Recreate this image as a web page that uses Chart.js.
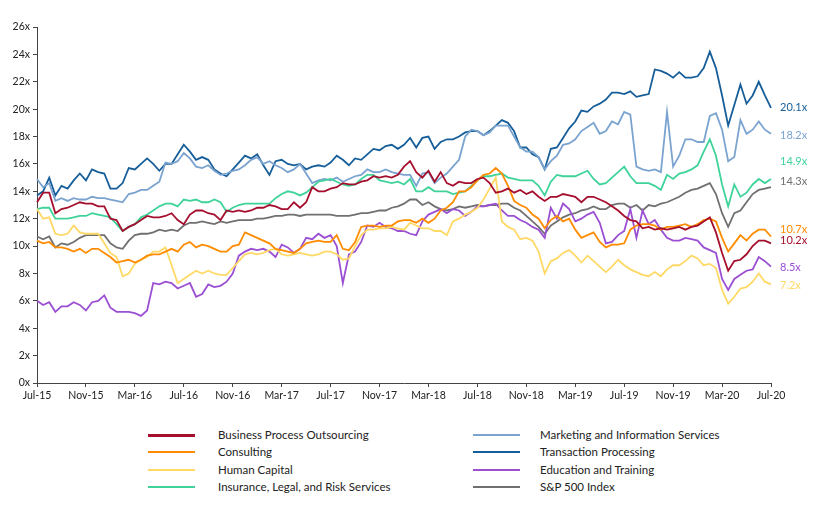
<!DOCTYPE html>
<html>
<head>
<meta charset="utf-8">
<script src="https://cdn.jsdelivr.net/npm/chart.js@4.4.0/dist/chart.umd.min.js"></script>
<style>
  body { margin: 0; background: #fff; font-family: Lato, "Noto Sans", sans-serif; }
  #wrap { position: relative; width: 814px; height: 507px; }
  #chart { position: absolute; left: 0; top: 0; }
  .lg { position: absolute; font-size: 11.5px; color: #222; line-height: 14px; white-space: nowrap; }
  .lg i { position: absolute; width: 47px; height: 2px; left: -70px; top: 6px; }
</style>
</head>
<body>
<div id="wrap">
  <canvas id="chart" width="814" height="405"></canvas>
  <div id="legend"></div>
</div>
<script>
// half-month steps, Jul-15 .. Jul-20
var tickLabels = ['Jul-15','Nov-15','Mar-16','Jul-16','Nov-16','Mar-17','Jul-17','Nov-17','Mar-18','Jul-18','Nov-18','Mar-19','Jul-19','Nov-19','Mar-20','Jul-20'];

var seriesNames = ['Business Process Outsourcing','Consulting','Human Capital','Insurance, Legal, and Risk Services',
                   'Marketing and Information Services','Transaction Processing','Education and Training','S&P 500 Index'];

var bpo = [13.2,13.9,13.9,12.4,12.7,12.8,13.0,13.2,13.1,13.1,12.9,12.9,12.0,11.9,11.1,11.4,11.6,11.9,12.2,12.1,12.1,
  12.2,12.4,11.9,11.6,12.3,12.6,12.6,12.4,12.3,11.9,12.6,12.5,12.6,12.5,12.6,12.8,12.8,13.0,12.9,
  12.7,12.7,13.2,12.8,13.2,14.3,14.0,14.0,14.2,14.3,14.6,14.5,14.5,14.7,14.8,15.1,15.0,15.1,15.0,15.2,
  15.8,16.2,15.4,15.0,15.5,14.7,15.4,14.6,14.4,14.7,14.6,14.6,14.9,15.0,14.6,13.9,14.0,14.2,13.9,14.1,
  13.8,14.0,13.6,13.3,13.6,13.6,13.8,13.7,13.6,13.2,13.6,13.6,13.4,13.2,12.9,12.6,12.2,11.9,11.8,
  11.3,11.4,11.2,11.3,11.2,11.3,11.4,11.2,11.4,11.5,11.8,12.1,11.0,9.5,8.2,8.9,9.0,9.4,10.0,10.4,10.4,10.2];

var consulting = [10.4,10.2,10.3,9.9,9.9,9.8,9.6,9.8,9.5,9.8,9.8,9.5,9.2,8.8,8.9,9.0,8.8,9.0,9.3,9.4,9.4,
  9.6,9.8,9.6,10.1,10.3,9.9,10.1,10.0,9.8,9.6,9.6,10.0,10.1,11.0,10.8,10.6,10.4,10.2,9.8,
  9.7,9.6,9.5,9.8,10.2,10.3,10.4,10.3,10.3,10.8,9.8,9.7,10.3,11.4,11.5,11.5,11.4,11.5,11.5,11.8,
  11.9,11.9,11.7,12.0,11.7,12.0,12.6,12.8,13.2,14.0,14.0,14.3,14.8,15.2,15.3,15.7,15.3,14.4,13.3,13.0,
  12.8,12.3,12.0,11.3,11.9,12.2,11.8,12.0,11.2,10.6,10.8,11.0,10.3,9.9,10.1,10.1,10.2,11.2,11.5,
  11.6,11.6,11.5,11.2,11.4,11.4,11.5,11.6,11.4,11.6,11.9,12.0,11.8,10.6,9.6,10.2,10.8,10.4,10.9,11.2,11.2,10.7];

var humanCapital = [12.7,12.0,12.1,10.9,10.8,10.9,11.5,11.0,10.9,10.9,10.9,10.2,9.5,9.2,7.8,8.0,8.7,9.0,9.2,9.6,9.6,
  9.9,8.6,7.3,7.6,7.9,8.2,8.0,8.2,8.0,7.9,7.9,8.4,8.9,9.4,9.5,9.4,9.5,9.7,9.8,
  9.4,9.3,9.4,9.5,9.4,9.3,9.4,9.6,9.6,9.4,9.0,9.1,10.0,10.8,11.2,11.2,11.3,11.3,11.4,11.3,
  11.2,11.7,11.5,11.3,11.3,11.1,11.1,10.8,11.8,12.0,12.3,12.5,12.8,13.4,14.2,15.0,11.8,11.4,11.2,10.5,
  10.6,10.4,9.6,8.0,8.9,9.1,9.5,9.7,9.3,8.8,9.3,8.9,8.5,8.1,8.5,9.0,8.6,8.3,8.1,
  7.9,7.8,8.1,7.8,8.3,8.6,8.6,8.9,9.3,9.1,8.6,8.7,8.4,6.8,5.8,6.3,6.9,7.0,7.4,8.0,7.4,7.2];

var insurance = [12.7,12.8,12.8,12.0,12.0,12.0,12.1,12.2,12.2,12.4,12.3,12.2,12.1,11.6,11.1,11.4,11.6,12.1,12.3,12.6,12.9,
  13.1,13.1,12.9,13.4,13.3,13.4,13.2,13.2,13.4,13.2,12.5,12.8,13.0,13.1,13.1,13.1,13.1,13.1,13.5,
  13.8,14.0,13.9,13.7,13.9,14.3,14.7,14.8,14.9,14.7,14.5,14.4,14.5,14.9,15.2,15.2,14.8,14.7,14.6,14.7,
  14.5,14.9,14.0,14.0,14.3,14.0,14.0,14.0,13.8,13.9,14.0,14.4,14.8,15.1,15.1,15.2,15.3,15.0,14.9,14.8,
  14.8,14.8,14.4,13.7,14.7,15.2,15.1,15.1,15.1,15.3,15.5,14.9,14.5,14.6,15.0,15.4,15.8,15.1,14.6,
  14.6,14.6,14.4,14.1,15.2,14.9,15.3,15.4,15.6,15.9,16.9,17.8,16.6,14.5,12.9,14.5,13.6,13.9,14.5,14.9,14.6,14.9];

var marketing = [14.9,14.3,14.6,13.3,13.5,13.3,13.5,13.4,13.4,13.6,13.5,13.5,13.4,13.3,13.2,13.8,13.9,14.1,14.1,14.4,14.7,
  16.1,16.0,16.2,16.8,16.4,15.8,15.7,15.9,15.5,15.2,15.3,15.5,15.6,15.9,16.3,16.5,16.0,16.2,15.9,
  15.7,15.4,15.6,16.0,15.3,14.6,14.8,14.9,14.8,15.0,14.7,14.9,15.1,15.2,15.6,15.4,15.4,15.6,15.4,15.3,
  15.2,15.2,14.4,15.3,15.4,14.6,15.0,15.3,15.8,16.3,18.0,18.5,18.4,18.1,18.3,18.8,18.8,18.8,18.0,17.2,
  16.9,16.9,16.5,15.6,16.2,16.6,17.4,17.5,17.8,18.4,18.7,19.0,18.2,18.4,19.1,18.9,19.8,19.6,15.8,
  15.6,15.5,15.6,15.4,19.8,15.8,16.6,17.8,17.8,17.6,17.6,19.5,19.7,18.5,16.2,16.5,19.2,18.2,18.5,19.1,18.5,18.2];

var transaction = [13.7,14.0,15.0,13.7,14.4,14.2,14.8,15.3,14.8,15.6,15.4,15.3,14.2,14.2,14.6,15.7,15.6,16.0,16.4,16.0,15.5,
  16.0,16.0,16.7,17.4,16.9,16.3,16.5,16.3,15.6,15.3,15.1,15.6,16.1,16.6,16.4,16.7,15.9,15.2,16.2,
  16.3,16.0,15.9,16.0,15.6,15.8,15.9,15.8,16.1,16.6,16.3,15.9,16.4,16.3,16.7,17.1,17.0,17.3,17.4,17.1,
  17.4,17.9,17.2,17.9,18.0,17.1,17.6,17.8,17.8,18.0,18.3,18.4,18.4,18.1,18.4,18.8,19.2,19.0,18.4,17.2,
  17.2,16.7,16.5,15.6,17.1,17.2,17.9,18.6,19.1,19.9,19.8,20.2,20.4,20.7,21.2,21.2,21.1,21.3,20.9,
  21.0,21.1,22.9,22.8,22.6,22.3,22.7,22.3,22.3,22.4,23.0,24.2,23.0,21.0,18.8,20.3,21.8,20.4,21.0,22.0,21.0,20.1];

var education = [6.0,5.7,5.9,5.2,5.6,5.6,5.9,5.7,5.3,5.9,6.0,6.4,5.5,5.2,5.2,5.2,5.1,4.9,5.3,7.3,7.2,
  7.4,7.3,6.9,7.1,7.3,6.3,6.5,7.2,7.0,7.1,7.4,8.0,9.3,9.6,9.8,9.7,9.8,9.6,9.2,
  10.1,9.9,9.5,9.8,10.6,10.5,10.9,10.6,10.8,10.0,7.3,9.4,9.6,10.3,11.5,11.4,11.7,11.4,11.3,11.1,
  11.1,10.9,10.8,11.8,12.3,12.5,12.7,12.4,12.7,12.6,12.2,12.5,12.9,12.9,13.0,13.1,12.6,12.2,12.2,11.9,
  11.7,11.4,11.2,10.6,12.8,12.0,13.1,12.7,11.8,12.0,12.3,12.5,11.7,10.2,10.3,10.8,11.1,12.7,10.6,
  12.6,11.6,11.9,11.2,10.6,10.4,10.4,10.6,10.5,10.4,9.9,9.7,9.5,7.6,6.8,7.6,7.9,8.2,8.3,9.2,8.9,8.5];

var sp500 = [10.7,10.5,10.7,9.9,10.2,10.1,10.3,10.6,10.8,10.8,10.8,10.8,10.2,9.9,9.8,10.4,10.8,10.9,10.9,11.0,11.2,
  11.1,11.2,11.1,11.5,11.7,11.7,11.8,11.7,11.6,11.8,11.7,11.8,11.9,11.9,11.9,12.0,12.0,12.1,12.2,
  12.2,12.3,12.3,12.2,12.3,12.3,12.3,12.3,12.3,12.2,12.2,12.2,12.3,12.4,12.4,12.5,12.6,12.6,12.8,12.9,
  13.1,13.4,13.4,13.0,13.2,12.9,12.7,12.6,12.7,12.9,12.8,12.9,13.0,12.9,13.0,13.0,13.1,13.1,12.8,12.6,
  12.2,11.8,11.4,10.9,11.5,11.8,12.1,12.3,12.4,12.6,12.7,12.9,12.7,12.7,13.0,13.1,13.1,12.8,13.0,
  12.6,13.0,12.9,13.1,13.2,13.4,13.6,13.9,14.1,14.2,14.4,14.6,13.8,12.4,11.4,12.4,12.6,13.2,13.8,14.1,14.2,14.3];

var colors = ['#a50f2d','#ff8c00','#ffd966','#3fd39a','#7aa3cf','#165e99','#9b4fd3','#707070'];
var allSeries = [bpo, consulting, humanCapital, insurance, marketing, transaction, education, sp500];
// shift of the end label from its line end, px
var labelShift = [-3, -7, 1, -18, 2, 0, 1, -6];

var labels = [];
for (var i = 0; i < bpo.length; i++) {
  labels.push(i % 8 === 0 ? tickLabels[i / 8] : '');
}

var datasets = [];
allSeries.forEach(function (s, k) {
  datasets.push({
    label: seriesNames[k],
    data: s,
    borderColor: colors[k],
    backgroundColor: colors[k],
    borderWidth: 1.8,
    pointRadius: 0,
    tension: 0
  });
});

var endLabels = {
  id: 'endLabels',
  afterDatasetsDraw: function (chart) {
    var ctx = chart.ctx;
    ctx.save();
    ctx.font = '11px Lato, "Noto Sans", sans-serif';
    ctx.textBaseline = 'middle';
    chart.data.datasets.forEach(function (ds, k) {
      var pts = chart.getDatasetMeta(k).data;
      var last = pts[pts.length - 1];
      var v = ds.data[ds.data.length - 1];
      ctx.fillStyle = ds.borderColor;
      ctx.fillText(v.toFixed(1) + 'x', chart.chartArea.right + 9, last.y + labelShift[k]);
    });
    ctx.restore();
  }
};

var tickFont = { family: 'Lato, "Noto Sans", sans-serif', size: 10.5 };

new Chart(document.getElementById('chart'), {
  type: 'line',
  data: { labels: labels, datasets: datasets },
  options: {
    responsive: false,
    animation: false,
    layout: { padding: { left: 0, right: 43, top: 27, bottom: 0 } },
    plugins: { legend: { display: false }, tooltip: { enabled: false } },
    scales: {
      x: {
        border: { display: true, color: '#444', width: 1 },
        grid: {
          drawOnChartArea: false, drawTicks: true, tickLength: 4,
          tickColor: function (c) { return c.index % 8 === 0 ? '#444' : 'rgba(0,0,0,0)'; }
        },
        ticks: {
          autoSkip: false, maxRotation: 0, minRotation: 0, color: '#222', font: tickFont, padding: 2,
          callback: function (v, i) { return labels[i]; }
        },
        afterFit: function (s) { s.height = 22; }
      },
      y: {
        min: 0, max: 26,
        border: { display: true, color: '#444', width: 1 },
        grid: { drawOnChartArea: false, drawTicks: true, tickLength: 4, tickColor: '#444' },
        ticks: {
          stepSize: 2, color: '#222', font: tickFont, padding: 3,
          callback: function (v) { return v + 'x'; }
        },
        afterFit: function (s) { s.width = 37; }
      }
    }
  },
  plugins: [endLabels]
});

// legend, two columns
var legend = document.getElementById('legend');
var colX = [218, 540];
var rowY = [428, 445, 463, 480];
seriesNames.forEach(function (name, k) {
  var d = document.createElement('div');
  d.className = 'lg';
  d.style.left = colX[Math.floor(k / 4)] + 'px';
  d.style.top = rowY[k % 4] + 'px';
  var sw = document.createElement('i');
  sw.style.background = colors[k];
  sw.style.left = (Math.floor(k / 4) === 0 ? -70 : -67) + 'px';
  if (k === 0) sw.style.height = '3px';
  d.appendChild(sw);
  d.appendChild(document.createTextNode(name));
  legend.appendChild(d);
});
</script>
</body>
</html>
